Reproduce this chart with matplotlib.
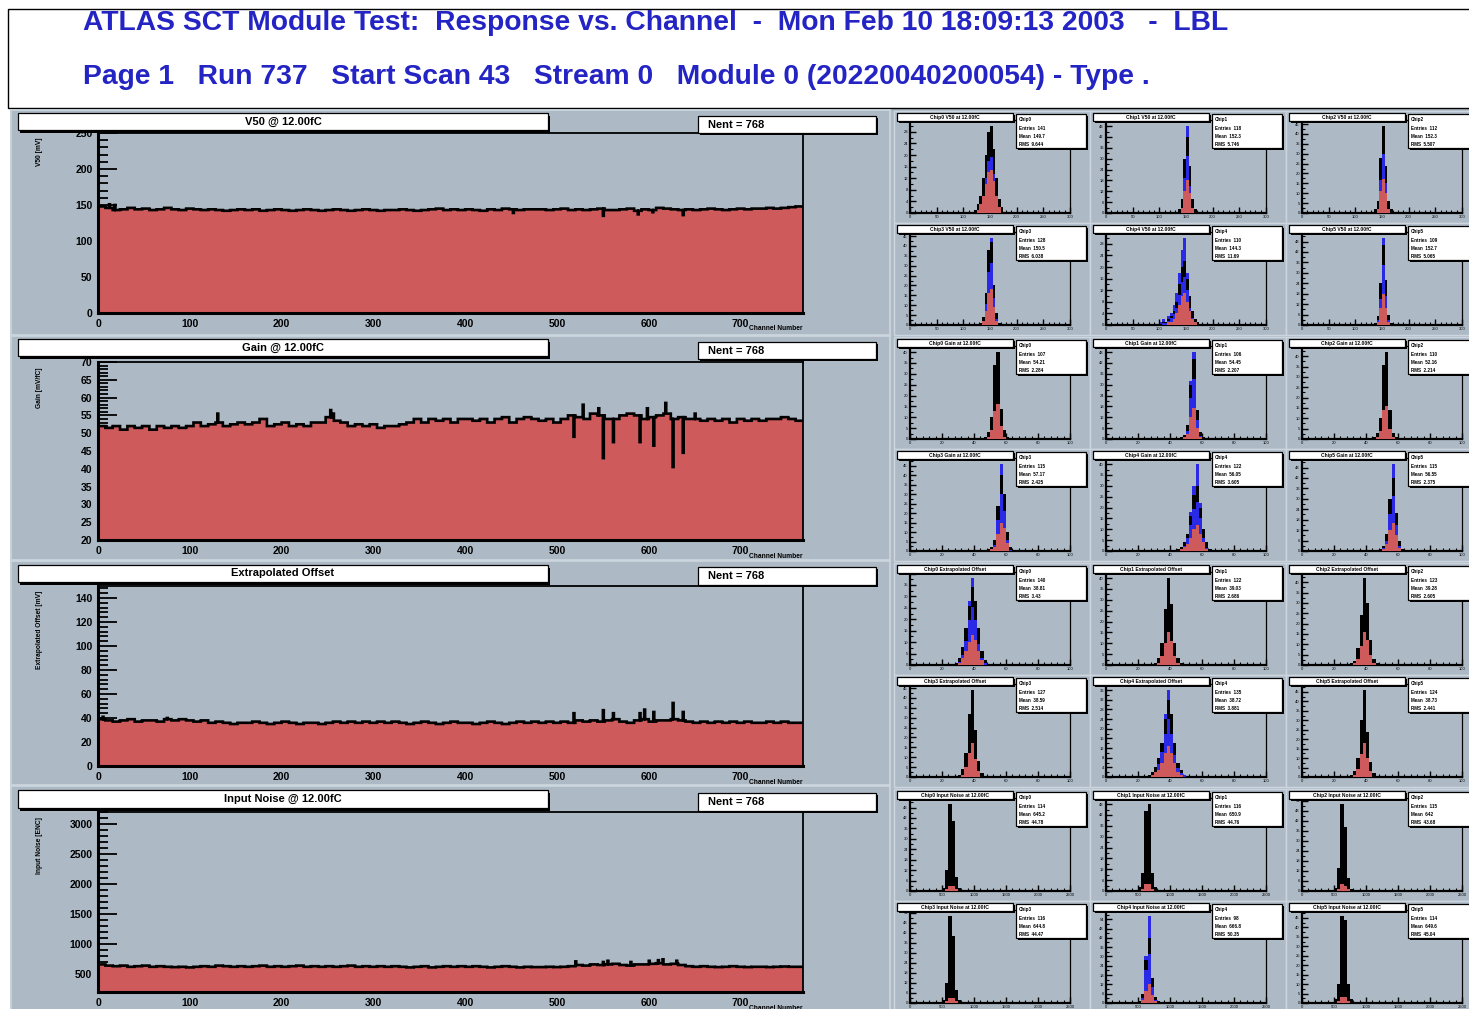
import numpy as np
import matplotlib
matplotlib.use("Agg")
import matplotlib.pyplot as plt
from matplotlib.patches import Rectangle
from matplotlib.ticker import MultipleLocator, AutoMinorLocator, MaxNLocator

plt.rcParams['font.family'] = ['Liberation Sans', 'DejaVu Sans']

# ---------------- data ----------------
title_line1 = "ATLAS SCT Module Test:  Response vs. Channel  -  Mon Feb 10 18:09:13 2003   -  LBL"
title_line2 = "Page 1   Run 737   Start Scan 43   Stream 0   Module 0 (20220040200054) - Type ."

panel_titles = ["V50 @ 12.00fC", "Gain @ 12.00fC", "Extrapolated Offset", "Input Noise @ 12.00fC"]
panel_ylabels = ["V50 [mV]", "Gain [mV/fC]", "Extrapolated Offset [mV]", "Input Noise [ENC]"]
stat_text = "Nent = 768"
n_channels = 768
group_size = 8

# typical level per group of 8 channels (96 groups)
v50 = [148, 146, 143, 144, 146, 144, 145, 143, 144, 146,
       144, 143, 145, 144, 143, 144, 143, 142, 143, 144,
       143, 144, 142, 143, 144, 143, 142, 143, 144, 143,
       142, 143, 144, 143, 142, 143, 144, 143, 142, 143,
       143, 144, 143, 142, 143, 144, 145, 143, 144, 143,
       144, 143, 142, 144, 143, 145, 144, 143, 144, 144,
       144, 143, 144, 145, 143, 144, 143, 144, 145, 143,
       143, 144, 145, 142, 144, 143, 146, 145, 144, 143,
       144, 143, 144, 145, 144, 143, 144, 145, 144, 145,
       145, 146, 145, 146, 147, 148]
gain = [52, 51.5, 52, 51, 52, 51.5, 52, 51, 52, 51.5,
        52, 51.5, 52, 53, 52, 52.5, 53, 52, 52.5, 53,
        52.5, 53, 54, 52, 52.5, 53, 52, 52.5, 52, 53,
        53, 54.5, 53.5, 53, 52, 52.5, 52, 52.5, 51.5, 52,
        52, 52.5, 53, 54, 53, 54, 53.5, 54, 53, 54,
        54, 53.5, 54, 53, 54, 54.5, 53, 54, 54.5, 54,
        53.5, 54, 53, 54, 55, 54.5, 54, 55.5, 55, 54,
        54, 55, 55.5, 55, 54, 54.5, 55, 55.5, 54, 54.5,
        54, 54, 53.5, 54, 53.5, 54, 53, 54, 53.5, 54,
        53.5, 54, 54, 54.5, 54, 53.5]
offset = [39, 38, 37, 38, 39, 37, 38, 38, 37, 39,
          38, 39, 38, 37, 38, 36, 37, 36, 35, 36,
          36, 37, 36, 35, 36, 37, 36, 35, 36, 36,
          35, 36, 37, 36, 37, 36, 37, 36, 37, 36,
          37, 36, 35, 36, 37, 36, 35, 36, 37, 36,
          36, 35, 36, 37, 36, 35, 36, 37, 36, 37,
          36, 37, 36, 37, 36, 38, 37, 38, 37, 38,
          39, 37, 36, 38, 39, 37, 38, 38, 39, 38,
          37, 36, 37, 36, 37, 36, 37, 36, 37, 36,
          36, 37, 36, 37, 36, 36]
noise = [660, 640, 630, 640, 620, 630, 640, 620, 630, 620,
         615, 620, 610, 620, 630, 620, 640, 630, 620, 630,
         620, 630, 640, 620, 630, 620, 630, 640, 620, 630,
         620, 630, 620, 630, 640, 620, 630, 620, 630, 620,
         630, 620, 610, 620, 630, 610, 620, 630, 620, 630,
         620, 630, 620, 610, 620, 630, 620, 610, 620, 615,
         615, 620, 615, 620, 630, 650, 640, 660, 650, 660,
         670, 650, 640, 660, 660, 670, 680, 660, 670, 650,
         630, 620, 630, 620, 615, 620, 630, 620, 615, 620,
         620, 615, 620, 625, 620, 620]

# individual channels that stand out from their group
v50_spike_ch = [12, 18, 452, 550, 588, 604, 637]
v50_spike_val = [151, 150, 139, 135, 137, 140, 136]
gain_spike_ch = [130, 253, 256, 518, 528, 545, 550, 561, 590, 598, 605, 618, 626, 637, 650]
gain_spike_val = [55.5, 56.5, 55.5, 49, 58, 57, 43, 47.5, 47.5, 57, 46.5, 58.5, 40.5, 44.5, 55.5]
offset_spike_ch = [5, 75, 518, 550, 561, 590, 595, 605, 626, 637]
offset_spike_val = [41, 40, 44, 46.5, 44, 44, 47, 45, 52.5, 45]
noise_spike_ch = [520, 550, 555, 580, 600, 610, 615, 630]
noise_spike_val = [710, 700, 720, 700, 720, 730, 745, 720]

panel_values = [v50, gain, offset, noise]
panel_spike_ch = [v50_spike_ch, gain_spike_ch, offset_spike_ch, noise_spike_ch]
panel_spike_val = [v50_spike_val, gain_spike_val, offset_spike_val, noise_spike_val]
panel_ylims = [(0, 250), (20, 70), (0, 150), (200, 3200)]
panel_ymajor = [50, 5, 20, 500]
x_ticks = [0, 100, 200, 300, 400, 500, 600, 700]

# per-chip distributions (6 chips per quantity)
chip_names = ["Chip0", "Chip1", "Chip2", "Chip3", "Chip4", "Chip5"]
chip_titles = ["V50 at 12.00fC", "Gain at 12.00fC", "Extrapolated Offset", "Input Noise at 12.00fC"]
chip_binw = [5, 2, 2, 50]
chip_xmax = [300, 100, 100, 2500]
chip_xstep = [50, 20, 20, 500]

v50_lo = [120, 135, 135, 130, 100, 135]
v50_black = [[1, 3, 6, 12, 20, 28, 30, 22, 12, 5, 2], [2, 8, 30, 42, 26, 8, 2], [2, 6, 28, 44, 24, 6, 2],
             [1, 4, 16, 38, 42, 20, 6, 1], [0, 1, 1, 2, 3, 5, 8, 14, 20, 22, 16, 10, 5, 2, 1], [1, 5, 24, 46, 26, 6, 1]]
v50_red = [[0, 1, 3, 6, 10, 14, 15, 11, 6, 2, 0], [0, 3, 12, 18, 11, 3, 0], [0, 2, 11, 17, 10, 2, 0],
           [0, 2, 7, 16, 18, 9, 2, 0], [0, 0, 0, 1, 1, 2, 4, 7, 10, 11, 8, 5, 2, 1, 0], [0, 2, 10, 18, 10, 2, 0]]
v50_blue = [[0, 0, 2, 8, 16, 24, 26, 18, 8, 2, 0], [0, 4, 26, 48, 20, 4, 0], [0, 3, 22, 40, 20, 3, 0],
            [0, 3, 14, 36, 44, 18, 4, 0], [1, 2, 1, 3, 4, 7, 11, 18, 26, 30, 18, 8, 3, 1, 0], [0, 4, 20, 50, 22, 4, 0]]

gain_lo = [46, 46, 44, 48, 44, 48]
gain_black = [[1, 3, 10, 34, 40, 14, 4, 1], [1, 2, 8, 30, 44, 16, 4, 1], [1, 3, 10, 36, 42, 14, 3, 1],
              [1, 2, 6, 24, 40, 30, 10, 2], [1, 2, 4, 8, 16, 26, 30, 20, 10, 4, 1], [1, 3, 10, 30, 42, 22, 6, 1]]
gain_red = [[0, 1, 4, 13, 16, 6, 1, 0], [0, 1, 3, 12, 17, 6, 1, 0], [0, 1, 4, 14, 16, 5, 1, 0],
            [0, 1, 2, 9, 15, 12, 4, 0], [0, 1, 2, 3, 6, 10, 12, 8, 4, 1, 0], [0, 1, 4, 12, 16, 9, 2, 0]]
gain_blue = [[], [0, 0, 6, 32, 48, 14, 2, 0], [],
             [0, 1, 4, 22, 46, 28, 8, 1], [0, 1, 3, 8, 18, 30, 40, 22, 8, 2, 0], [0, 2, 8, 28, 50, 20, 4, 0]]

offset_lo = [28, 30, 30, 30, 26, 30]
offset_black = [[1, 3, 8, 16, 26, 34, 28, 16, 6, 2], [1, 3, 10, 26, 40, 28, 10, 3, 1], [1, 2, 8, 24, 42, 30, 12, 3, 1],
                [1, 4, 12, 32, 44, 24, 8, 2], [1, 2, 4, 8, 14, 24, 32, 26, 14, 6, 3, 1], [1, 3, 10, 30, 46, 24, 8, 2]]
offset_red = [[0, 1, 3, 6, 10, 13, 11, 6, 2, 0], [0, 1, 4, 10, 15, 11, 4, 1, 0], [0, 1, 3, 9, 16, 12, 5, 1, 0],
              [0, 1, 5, 12, 17, 9, 3, 0], [0, 1, 2, 3, 6, 10, 13, 10, 6, 2, 1, 0], [0, 1, 4, 12, 18, 10, 3, 0]]
offset_blue = [[0, 2, 6, 14, 28, 38, 26, 12, 4, 1], [], [],
               [], [0, 1, 3, 7, 14, 26, 36, 24, 12, 5, 2, 1], []]

noise_lo = [500, 500, 500, 500, 500, 500]
noise_black = [[2, 12, 50, 40, 8, 2], [2, 10, 44, 48, 10, 2], [2, 14, 52, 38, 8, 1],
               [2, 12, 52, 40, 8, 2], [1, 6, 28, 42, 16, 4, 1], [2, 10, 46, 44, 10, 2]]
noise_red = [[0, 1, 3, 3, 1, 0], [0, 1, 4, 4, 1, 0], [0, 1, 4, 3, 1, 0],
             [0, 1, 3, 3, 1, 0], [0, 2, 8, 12, 5, 1, 0], [0, 1, 3, 3, 1, 0]]
noise_blue = [[], [], [], [], [0, 4, 30, 56, 14, 3, 0], []]

chip_lo = [v50_lo, gain_lo, offset_lo, noise_lo]
chip_black = [v50_black, gain_black, offset_black, noise_black]
chip_red = [v50_red, gain_red, offset_red, noise_red]
chip_blue = [v50_blue, gain_blue, offset_blue, noise_blue]

# ---------------- style ----------------
W, H = 1469, 1009
GREY = '#adbac6'
RED = '#cf5a5c'
BLUE_T = '#2424c4'
BLUE_H = '#2a2ae6'

fig = plt.figure(figsize=(W / 100, H / 100), dpi=100)
fig.patch.set_facecolor('white')


def box(x0, y0, x1, y1):
    return [x0 / W, 1 - y1 / H, (x1 - x0) / W, (y1 - y0) / H]


bg = fig.add_axes([0, 0, 1, 1], zorder=-5)
bg.set_xlim(0, W); bg.set_ylim(H, 0); bg.axis('off')
ov = fig.add_axes([0, 0, 1, 1], zorder=20)
ov.set_xlim(0, W); ov.set_ylim(H, 0); ov.axis('off'); ov.patch.set_alpha(0)

# background & header
bg.add_patch(Rectangle((10, 108), W, H, fc=GREY, ec='none'))
bg.add_patch(Rectangle((8, 9), W + 10, 99, fc='white', ec='black', lw=1.0))
bg.text(83, 23, title_line1, color=BLUE_T, fontsize=20.3, fontweight='bold', va='center', ha='left')
bg.text(83, 77, title_line2, color=BLUE_T, fontsize=20.3, fontweight='bold', va='center', ha='left')


def labelbox(x0, y0, x1, y1, text, fs, ha='center', sh=2.5, tx=None):
    ov.add_patch(Rectangle((x0 + sh, y0 + sh), x1 - x0, y1 - y0, fc='black', ec='none'))
    ov.add_patch(Rectangle((x0, y0), x1 - x0, y1 - y0, fc='white', ec='black', lw=0.9))
    if tx is None:
        tx = (x0 + x1) / 2 if ha == 'center' else x0 + 10
    ov.text(tx, (y0 + y1) / 2, text, fontsize=fs, ha=ha, va='center', fontweight='bold')


# ---------------- main panels ----------------
pad_y = [(110, 335), (336, 560), (561, 785), (786, 1012)]
ax_y = [(133, 313), (362, 540), (586, 766), (812, 992)]
tbox_y = [(113, 130), (339, 356), (565, 582), (790, 808)]
nbox_y = [(116, 133), (342, 359), (567, 585), (793, 811)]
edges = np.arange(0, n_channels + 1)

for i in range(4):
    bg.add_patch(Rectangle((11, pad_y[i][0]), 879, pad_y[i][1] - pad_y[i][0], fc=GREY, ec='#cdd6df', lw=1.2))
    ax = fig.add_axes(box(98, ax_y[i][0], 803, ax_y[i][1]))
    ax.set_facecolor(GREY)
    vals = np.repeat(np.array(panel_values[i], dtype=float), group_size)
    for ch, v in zip(panel_spike_ch[i], panel_spike_val[i]):
        vals[ch] = v
    lo, hi = panel_ylims[i]
    ax.stairs(vals, edges, fill=True, color=RED, baseline=lo, zorder=2)
    ax.stairs(vals, edges, color='black', lw=1.9, baseline=None, zorder=3)
    ax.set_xlim(0, n_channels)
    ax.set_ylim(lo, hi)
    ax.set_xticks(x_ticks)
    ax.xaxis.set_minor_locator(MultipleLocator(20))
    ax.yaxis.set_major_locator(MultipleLocator(panel_ymajor[i]))
    ax.yaxis.set_minor_locator(AutoMinorLocator(5))
    ax.tick_params(axis='y', which='major', direction='in', length=14, width=1.3, labelsize=7.5, pad=4)
    ax.tick_params(axis='y', which='minor', direction='in', length=7, width=1.3)
    ax.tick_params(axis='x', which='major', direction='in', length=5, width=1.3, labelsize=7.5, pad=4)
    ax.tick_params(axis='x', which='minor', direction='in', length=2.5, width=1.1)
    for lab in ax.get_xticklabels() + ax.get_yticklabels():
        lab.set_fontweight('bold')
    ax.spines['left'].set_linewidth(2.2)
    ax.spines['bottom'].set_linewidth(2.2)
    ax.spines['right'].set_linewidth(1.3)
    ax.spines['top'].set_linewidth(1.3)
    labelbox(18, tbox_y[i][0], 548, tbox_y[i][1], panel_titles[i], 8)
    labelbox(698, nbox_y[i][0], 876, nbox_y[i][1], stat_text, 8, ha='left', sh=2, tx=708)
    ov.text(40, ax_y[i][0] + 5, panel_ylabels[i], rotation=90, fontsize=4.8, ha='center', va='top', fontweight='bold')
    ov.text(803, ax_y[i][1] + 16, "Channel Number", fontsize=4.8, ha='right', va='center', fontweight='bold')

# ---------------- per-chip histograms ----------------
col_x = [896, 1092, 1288]
row_y = [112, 224, 338, 450, 564, 676, 790, 902]
for r in range(8):
    q = r // 2
    for c in range(3):
        chip = (r % 2) * 3 + c
        x0, y0 = col_x[c], row_y[r]
        bg.add_patch(Rectangle((x0 - 2, y0 - 1), 196, 112, fc=GREY, ec='#cdd6df', lw=1.0))
        ax = fig.add_axes(box(x0 + 14, y0 + 8, x0 + 174, y0 + 101))
        ax.set_facecolor(GREY)
        bw = chip_binw[q]
        lo = chip_lo[q][chip]
        blk = np.array(chip_black[q][chip], dtype=float)
        red = np.array(chip_red[q][chip], dtype=float)
        blu = np.array(chip_blue[q][chip], dtype=float)
        e = lo + bw * np.arange(len(blk) + 1)
        ax.stairs(blk, e, fill=True, color='black', zorder=2)
        if len(blu):
            ax.stairs(blu, e, fill=True, color=BLUE_H, zorder=1)
            ax.stairs(np.minimum(blu, blk) * 0.75, e, fill=True, color=BLUE_H, zorder=3)
        ax.stairs(red, e, fill=True, color=RED, zorder=4)
        top = max(blk.max(), blu.max() if len(blu) else 0)
        ax.set_xlim(0, chip_xmax[q])
        ax.set_ylim(0, top * 1.07)
        ax.xaxis.set_major_locator(MultipleLocator(chip_xstep[q]))
        ax.xaxis.set_minor_locator(AutoMinorLocator(5))
        ax.yaxis.set_major_locator(MaxNLocator(10, integer=True))
        ax.yaxis.set_minor_locator(AutoMinorLocator(2))
        ax.tick_params(axis='both', which='major', direction='in', length=4, width=1.0, labelsize=3, pad=1.5)
        ax.tick_params(axis='both', which='minor', direction='in', length=2, width=0.8)
        ax.spines['left'].set_linewidth(1.6)
        ax.spines['bottom'].set_linewidth(1.6)
        for s in ('top', 'right'):
            ax.spines[s].set_linewidth(0.9)
        centres = e[:-1] + bw / 2
        n = blk.sum()
        mean = (blk * centres).sum() / n
        rms = np.sqrt((blk * (centres - mean) ** 2).sum() / n)
        labelbox(x0 + 1, y0 + 1, x0 + 117, y0 + 9,
                 f"{chip_names[chip]} {chip_titles[q]}", 3.6, sh=2)
        ov.add_patch(Rectangle((x0 + 122, y0 + 4), 70, 34, fc='black', ec='none'))
        ov.add_patch(Rectangle((x0 + 120, y0 + 2), 70, 34, fc='white', ec='black', lw=0.9))
        ov.text(x0 + 123, y0 + 8, f"{chip_names[chip]}", fontsize=3.3, va='center', fontweight='bold')
        ov.text(x0 + 123, y0 + 16, f"Entries  {int(n)}", fontsize=3.3, va='center', fontweight='bold')
        ov.text(x0 + 123, y0 + 24, f"Mean  {mean:.4g}", fontsize=3.3, va='center', fontweight='bold')
        ov.text(x0 + 123, y0 + 32, f"RMS  {rms:.4g}", fontsize=3.3, va='center', fontweight='bold')

fig.savefig("out.png", dpi=100, facecolor='white')
